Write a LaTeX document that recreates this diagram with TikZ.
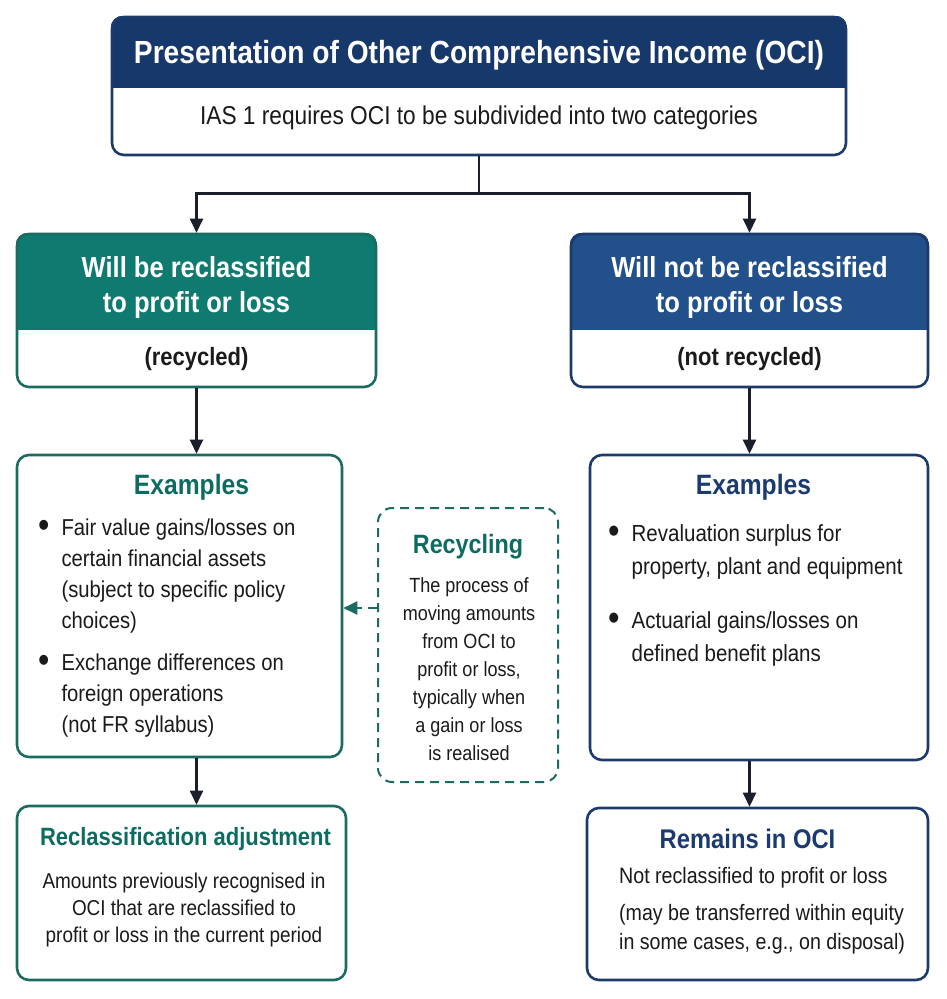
\documentclass[tikz,border=0pt]{standalone}
\usepackage{fontspec}
\setmainfont[FakeStretch=0.88]{Liberation Sans}
\usetikzlibrary{arrows.meta,positioning,calc,backgrounds}

\definecolor{navyhead}{HTML}{17386B}
\definecolor{bluehead}{HTML}{22508A}
\definecolor{tealhead}{HTML}{0F7A70}
\definecolor{tealline}{HTML}{1B6B62}
\definecolor{navyline}{HTML}{1C3A6A}
\definecolor{inkline}{HTML}{1A1F2B}
\definecolor{bodytext}{HTML}{1A1A1A}
\definecolor{tealtext}{HTML}{0E6B61}
\definecolor{navytext}{HTML}{1B3A70}

\newcommand{\bigbullet}{\raisebox{-2.5pt}{\scalebox{1.6}{\textbullet}}}

\begin{document}
\begin{tikzpicture}[
			x=1pt, y=-1pt,
			>={Triangle[length=14pt,width=13pt]},
			flow/.style={->,line width=2.4pt,draw=inkline},
			recycle/.style={->,line width=2.2pt,draw=tealline,dash pattern=on 9pt off 6pt},
			panel/.style={rectangle,rounded corners=12pt,line width=2.6pt,inner sep=0pt},
			tealpanel/.style={panel,draw=tealline},
			navypanel/.style={panel,draw=navyline},
			headtxt/.style={text=white,font=\bfseries\fontsize{29}{35}\selectfont,align=center},
			subtxt/.style={text=bodytext,font=\bfseries\fontsize{25}{30}\selectfont},
			bodytxt/.style={text=bodytext,font=\fontsize{23}{31}\selectfont},
			minihead/.style={font=\bfseries\fontsize{28}{32}\selectfont}
			]
			\useasboundingbox (0,0) rectangle (946,999);
			
			% top: heading box
			\node[navypanel, minimum width=734pt, minimum height=138pt] (oci) at (479,86) {};
			\node[headtxt, font=\bfseries\fontsize{32}{38}\selectfont] (ocititle) at (479,55) {Presentation of Other Comprehensive Income (OCI)};
			\node[bodytxt, font=\fontsize{25.8}{31}\selectfont] (ocisub) at (479,118) {IAS 1 requires OCI to be subdivided into two categories};
			
			% the two categories
			\node[tealpanel, minimum width=359pt, minimum height=153pt] (recyc) at (196.5,310.5) {};
			\node[headtxt] (recyctitle) at (196.5,287) {Will be reclassified\\to profit or loss};
			\node[subtxt] (recycnote) at (196.5,359) {(recycled)};
			
			\node[navypanel, minimum width=357pt, minimum height=153pt] (norecyc) at (749.5,310.5) {};
			\node[headtxt] (norecyctitle) at (749.5,287) {Will not be reclassified\\to profit or loss};
			\node[subtxt] (norecycnote) at (749.5,359) {(not recycled)};
			
			% examples
			\node[tealpanel, minimum width=325pt, minimum height=302pt] (recycex) at (179.5,606) {};
			\node[minihead, text=tealtext] (recycextitle) at (191.5,487) {Examples};
			\node[bodytxt, anchor=base west, inner sep=0pt] (recycexlist) at (38,535) {%
				\begin{tabular}[t]{@{}l@{\hspace{12pt}}l@{}}
					\bigbullet & Fair value gains/losses on\\
					& certain financial assets\\
					& (subject to specific policy\\
					& choices)\\[11pt]
					\bigbullet & Exchange differences on\\
					& foreign operations\\
					& (not FR syllabus)
			\end{tabular}};
			
			\node[navypanel, minimum width=338pt, minimum height=305pt] (keepex) at (759,607.5) {};
			\node[minihead, text=navytext] (keepextitle) at (753.5,487) {Examples};
			\node[bodytxt, font=\fontsize{23.3}{33.5}\selectfont, anchor=base west, inner sep=0pt] (keepexlist) at (608,541) {%
				\begin{tabular}[t]{@{}l@{\hspace{12pt}}l@{}}
					\bigbullet & Revaluation surplus for\\
					& property, plant and equipment\\[20pt]
					\bigbullet & Actuarial gains/losses on\\
					& defined benefit plans
			\end{tabular}};
			
			% recycling note
			\node[panel, draw=tealline, line width=2pt, rounded corners=14pt, dash pattern=on 9pt off 6pt,
			minimum width=180pt, minimum height=274pt] (recycling) at (468,645) {};
			\node[minihead, font=\bfseries\fontsize{26.5}{32}\selectfont, text=tealtext] (recyclingtitle) at (468,547) {Recycling};
			\node[bodytxt, font=\fontsize{20.5}{28}\selectfont, align=center] (recyclingtext) at (469,669)
			{The process of\\moving amounts\\from OCI to\\profit or loss,\\typically when\\a gain or loss\\is realised};
			
			% outcomes
			\node[tealpanel, minimum width=329pt, minimum height=174pt] (reclass) at (181.5,893) {};
			\node[minihead, font=\bfseries\fontsize{25}{32}\selectfont, text=tealtext] (reclasstitle) at (185.5,839) {Reclassification adjustment};
			\node[bodytxt, font=\fontsize{21.5}{27}\selectfont, align=center] (reclasstext) at (184,910)
			{Amounts previously recognised in\\OCI that are reclassified to\\profit or loss in the current period};
			
			\node[navypanel, minimum width=341pt, minimum height=172pt] (keepoci) at (757.5,894) {};
			\node[minihead, font=\bfseries\fontsize{27}{32}\selectfont, text=navytext] (keepocititle) at (747.5,839) {Remains in OCI};
			\node[bodytxt, font=\fontsize{22.3}{29}\selectfont, align=left, anchor=west, inner sep=0pt] (keepocitext) at (619,911)
			{Not reclassified to profit or loss\\[8pt](may be transferred within equity\\in some cases, e.g., on disposal)};
			
			% header fills
			\begin{scope}[on background layer]
				\fill[white] (0,0) rectangle (946,999);
				\begin{scope}
					\clip[rounded corners=12pt] (oci.south west) rectangle (oci.north east);
					\fill[navyhead] (oci.north west) rectangle (oci.east |- 0,88);
				\end{scope}
				\begin{scope}
					\clip[rounded corners=12pt] (recyc.south west) rectangle (recyc.north east);
					\fill[tealhead] (recyc.north west) rectangle (recyc.east |- 0,330);
				\end{scope}
				\begin{scope}
					\clip[rounded corners=12pt] (norecyc.south west) rectangle (norecyc.north east);
					\fill[bluehead] (norecyc.north west) rectangle (norecyc.east |- 0,330);
				\end{scope}
			\end{scope}
			
			% connectors
			\draw[flow] (oci.south) -- ++(0,37) -| (recyc.north);
			\draw[flow] (oci.south) -- ++(0,37) -| (norecyc.north);
			\draw[flow] (recyc.south) -- (recyc.south |- recycex.north);
			\draw[flow] (recyc.south |- recycex.south) -- (recyc.south |- reclass.north);
			\draw[flow] (norecyc.south) -- (norecyc.south |- keepex.north);
			\draw[flow] (norecyc.south |- keepex.south) -- (norecyc.south |- keepoci.north);
			
			\coordinate (hook) at ([yshift=37pt]recycling.west);
			\draw[recycle] (hook) -- (hook -| recycex.east);
		\end{tikzpicture}
\end{document}
